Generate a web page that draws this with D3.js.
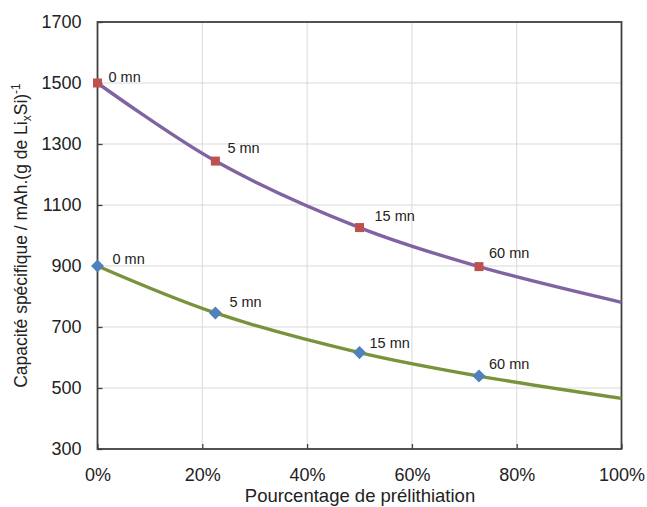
<!DOCTYPE html>
<html><head><meta charset="utf-8">
<script src="https://cdn.jsdelivr.net/npm/d3@7"></script>
<style>body{margin:0;background:#fff;} text{font-family:"Liberation Sans",Arial,sans-serif;fill:#222;}</style>
</head><body><svg id="c" width="647" height="507"></svg>
<script>
const xPct = [0, 22.5, 50, 72.8];
const timeLabels = ["0 mn", "5 mn", "15 mn", "60 mn"];
const purpleVals = [1500, 1244, 1026, 898];
const greenVals = [900, 746, 616, 539];
const curveX = [0, 22.5, 50, 72.8, 100];
const purpleCurve = [1500, 1244, 1026, 898, 781];
const greenCurve = [900, 746, 616, 539, 466];
const yTicks = [300, 500, 700, 900, 1100, 1300, 1500, 1700];
const xTicks = [0, 20, 40, 60, 80, 100];

const svg = d3.select("#c");
const m = {l: 97.5, r: 621.5, t: 22, b: 449};
const x = d3.scaleLinear().domain([0, 100]).range([m.l, m.r]);
const y = d3.scaleLinear().domain([300, 1700]).range([m.b, m.t]);

// grid
svg.append("g").selectAll("line").data(yTicks.slice(1,-1)).join("line")
  .attr("x1", m.l).attr("x2", m.r).attr("y1", d=>y(d)).attr("y2", d=>y(d))
  .attr("stroke", "#d9d9d9").attr("stroke-width", 1);
svg.append("g").selectAll("line").data(xTicks.slice(1,-1)).join("line")
  .attr("y1", m.t).attr("y2", m.b).attr("x1", d=>x(d)).attr("x2", d=>x(d))
  .attr("stroke", "#d9d9d9").attr("stroke-width", 1);

// axes
const yAx = svg.append("g").attr("transform", `translate(${m.l},0)`)
  .call(d3.axisLeft(y).tickValues(yTicks).tickFormat(d3.format("d")).tickSizeInner(-5).tickSizeOuter(0).tickPadding(16));
const xAx = svg.append("g").attr("transform", `translate(0,${m.b})`)
  .call(d3.axisBottom(x).tickValues(xTicks).tickFormat(d=>d+"%").tickSizeInner(-5).tickSizeOuter(0).tickPadding(19));
[yAx, xAx].forEach(a=>{
  a.select(".domain").remove();
  a.selectAll("line").attr("stroke", "#404040").attr("stroke-width", 1.3);
  a.selectAll("text").attr("font-size", 18).attr("fill", "#222").style("font-family", "Liberation Sans, Arial, sans-serif");
});
svg.append("rect").attr("x", m.l).attr("y", m.t).attr("width", m.r-m.l).attr("height", m.b-m.t)
  .attr("fill", "none").attr("stroke", "#404040").attr("stroke-width", 1.8);

// curves
const line = (vals) => d3.line().x((d,i)=>x(curveX[i])).y(d=>y(d)).curve(d3.curveCatmullRom.alpha(0.5))(vals);
svg.append("path").attr("d", line(purpleCurve)).attr("fill","none").attr("stroke","#8064A2").attr("stroke-width",3.4);
svg.append("path").attr("d", line(greenCurve)).attr("fill","none").attr("stroke","#77933C").attr("stroke-width",3.4);

// markers
svg.append("g").selectAll("rect").data(purpleVals).join("rect")
  .attr("x", (d,i)=>x(xPct[i])-4.5).attr("y", d=>y(d)-4.5).attr("width", 9).attr("height", 9)
  .attr("fill", "#C0504D");
svg.append("g").selectAll("path").data(greenVals).join("path")
  .attr("d", d3.symbol().type(d3.symbolSquare).size(85))
  .attr("transform", (d,i)=>`translate(${x(xPct[i])},${y(d)}) rotate(45)`)
  .attr("fill", "#4F81BD");

// labels
const pOff = [[11,-1],[12,-8],[15,-7],[10,-9]];
const gOff = [[15,-2],[14,-6],[10,-5],[10,-7]];
svg.append("g").selectAll("text").data(purpleVals).join("text")
  .attr("x",(d,i)=>x(xPct[i])+pOff[i][0]).attr("y",(d,i)=>y(d)+pOff[i][1])
  .attr("font-size",14.5).text((d,i)=>timeLabels[i]);
svg.append("g").selectAll("text").data(greenVals).join("text")
  .attr("x",(d,i)=>x(xPct[i])+gOff[i][0]).attr("y",(d,i)=>y(d)+gOff[i][1])
  .attr("font-size",14.5).text((d,i)=>timeLabels[i]);

// axis titles
svg.append("text").attr("x", 360).attr("y", 502).attr("text-anchor","middle")
  .attr("font-size",18.5).text("Pourcentage de prélithiation");
const yt = svg.append("text").attr("transform", `translate(27,${(m.t+m.b)/2}) rotate(-90)`)
  .attr("text-anchor","middle").attr("font-size",17.5);
yt.append("tspan").text("Capacité spécifique / mAh.(g de Li");
yt.append("tspan").attr("font-size",12).attr("dy",4).text("x");
yt.append("tspan").attr("dy",-4).text("Si)");
yt.append("tspan").attr("font-size",12).attr("dy",-7).text("-1");
</script></body></html>
